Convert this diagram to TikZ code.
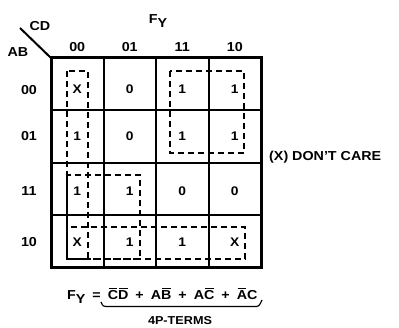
\documentclass[tikz,border=0pt]{standalone}
\usepackage{fontspec}
\setmainfont{Liberation Sans}[FakeStretch=1.1]
\newcommand\ovl[1]{\setbox0\hbox{#1}\rlap{\kern0.07em\rule[\dimexpr\ht0+1.6pt\relax]{\dimexpr\wd0-0.14em\relax}{1.2pt}}\box0\relax}
\tikzset{
  lbl/.style={font=\bfseries\fontsize{13}{15}\selectfont, inner sep=0pt},
  val/.style={font=\bfseries\fontsize{12.5}{15}\selectfont, inner sep=0pt},
  grp/.style={draw, line width=1.6pt, dash pattern=on 6pt off 4pt},
}
\begin{document}
\begin{tikzpicture}[x=1pt,y=-1pt]
\useasboundingbox (0,0) rectangle (399,328);
% grid
\foreach \x in {103.5,156,208.5} \draw[line width=2pt] (\x,58) -- (\x,268);
\foreach \y in {110.5,163,215.5} \draw[line width=2pt] (51,\y) -- (261,\y);
\draw[line width=3pt] (51,58) rectangle (261,268);
% corner
\draw[line width=2pt] (20,28) -- (51,58);
\node[lbl] (cd) at (40,26) {CD};
\node[lbl] (ab) at (18,52) {AB};
\node[lbl] (fy) at (158,21) {F\raisebox{-0.45ex}{Y}};
% column labels
\node[lbl] (c0) at (77.25,47) {00};
\node[lbl] (c1) at (129.75,47) {01};
\node[lbl] (c2) at (182.25,47) {11};
\node[lbl] (c3) at (234.75,47) {10};
% row labels
\node[lbl] (r0) at (29,90) {00};
\node[lbl] (r1) at (29,136) {01};
\node[lbl] (r2) at (29,191) {11};
\node[lbl] (r3) at (29,242) {10};
% values
\node[val] (v00) at (77.25,89.5) {X};
\node[val] (v01) at (129.75,89.5) {0};
\node[val] (v02) at (182.25,89.5) {1};
\node[val] (v03) at (234.75,89.5) {1};
\node[val] (v10) at (77.25,136) {1};
\node[val] (v11) at (129.75,136) {0};
\node[val] (v12) at (182.25,136) {1};
\node[val] (v13) at (234.75,136) {1};
\node[val] (v20) at (77.25,191) {1};
\node[val] (v21) at (129.75,191) {1};
\node[val] (v22) at (182.25,191) {0};
\node[val] (v23) at (234.75,191) {0};
\node[val] (v30) at (77.25,242) {X};
\node[val] (v31) at (129.75,242) {1};
\node[val] (v32) at (182.25,242) {1};
\node[val] (v33) at (234.75,242) {X};
% groups
\draw[grp] (67,71) rectangle (88,259);
\draw[grp] (170,71) rectangle (244,153);
\draw[grp] (67,175) rectangle (140,259);
\draw[grp] (67,227) rectangle (245,259);
% don't care
\node[lbl, anchor=west] (dc) at (269,157) {(X) DON'T CARE};
% equation
\node[lbl, anchor=base west] (eq) at (67,300) {\spaceskip=7pt F\raisebox{-0.45ex}{Y} = \ovl{C}\ovl{D} + A\ovl{B} + A\ovl{C} + \ovl{A}C};
\draw[line width=1.2pt] (101,302) .. controls (103,306.5) .. (109,306.5) -- (254,306.5) .. controls (259,306.5) .. (262,300);
\node[font=\bfseries\fontsize{11.5}{13}\selectfont, inner sep=0pt] (pt) at (180,321) {4P-TERMS};
\end{tikzpicture}
\end{document}
